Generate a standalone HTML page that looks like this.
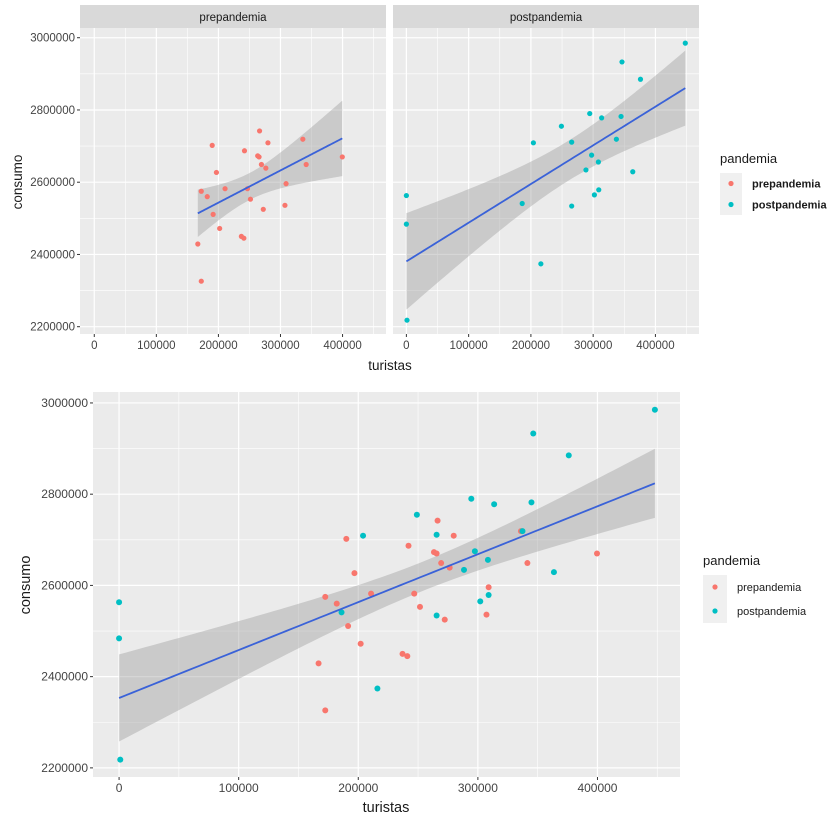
<!DOCTYPE html>
<html><head><meta charset="utf-8"><style>
body{margin:0;background:#fff;}
svg{display:block;font-family:"Liberation Sans",Arial,sans-serif;}
</style></head><body>
<svg id="c" width="831" height="821"></svg>
<script>
const preX=[166.8,172.4,172.4,182,190,191.5,196.8,202,210.7,237,241,242,246.8,251.6,263.3,265.5,266.3,269.3,272.3,276.4,279.8,307.2,309,336,341.4,399.6];
const preY=[2429,2326,2575,2560,2702,2511,2627,2472,2582,2450,2445,2687,2582,2553,2673,2670,2742,2649,2525,2639,2709,2536,2596,2719,2649,2670];
const postX=[0,0,1,186,204,216,249,265.5,265.5,288.4,294.5,297.5,302,308.4,309,313.6,337.3,344.8,346.3,363.6,376,448];
const postY=[2563,2484,2218,2541,2709,2374,2755,2711,2534,2634,2790,2675,2565,2656,2579,2778,2719,2782,2933,2629,2885,2985];
const xTicks=[0,100000,200000,300000,400000];
const yTicks=[2200000,2400000,2600000,2800000,3000000];
const seriesNames=['prepandemia','postpandemia'];
const colors=['#F8766D','#00BFC4'];
const NS='http://www.w3.org/2000/svg';
const svg=document.getElementById('c');
function mk(tag,attrs,parent){const e=document.createElementNS(NS,tag);for(const k in attrs)e.setAttribute(k,attrs[k]);(parent||svg).appendChild(e);return e;}
function fit(xs,ys){const n=xs.length;let mx=0,my=0;for(let i=0;i<n;i++){mx+=xs[i];my+=ys[i];}mx/=n;my/=n;let sxx=0,sxy=0;for(let i=0;i<n;i++){sxx+=(xs[i]-mx)**2;sxy+=(xs[i]-mx)*(ys[i]-my);}const b=sxy/sxx,a=my-b*mx;let sse=0;for(let i=0;i<n;i++)sse+=(ys[i]-a-b*xs[i])**2;const s=Math.sqrt(sse/(n-2));const t=n<24?2.086:(n<30?2.064:2.013);return {a,b,mx,sxx,s,n,t,min:Math.min(...xs),max:Math.max(...xs)};}
function panel(o){
  const g=mk('g',{});
  const X=v=>o.x0+(v-o.xd[0])/(o.xd[1]-o.xd[0])*o.w;
  const Y=v=>o.y0+o.h-(v-o.yd[0])/(o.yd[1]-o.yd[0])*o.h;
  const bg=mk('rect',{x:o.x0,y:o.y0,width:o.w,height:o.h,fill:'#EBEBEB'},g);
  for(let v=-100000;v<=500000;v+=50000){if(v%100000===0)continue;const x=X(v);if(x>o.x0&&x<o.x0+o.w)mk('line',{x1:x,x2:x,y1:o.y0,y2:o.y0+o.h,stroke:'#fff','stroke-width':0.6},g);}
  for(let v=2100000;v<=3100000;v+=100000){if(v%200000===0)continue;const y=Y(v);if(y>o.y0&&y<o.y0+o.h)mk('line',{x1:o.x0,x2:o.x0+o.w,y1:y,y2:y,stroke:'#fff','stroke-width':0.6},g);}
  xTicks.forEach(v=>{const x=X(v);mk('line',{x1:x,x2:x,y1:o.y0,y2:o.y0+o.h,stroke:'#fff','stroke-width':1.2},g);mk('line',{x1:x,x2:x,y1:o.y0+o.h,y2:o.y0+o.h+3,stroke:'#333','stroke-width':1},g);
    const t=mk('text',{x:x,y:o.y0+o.h+15,'text-anchor':'middle','font-size':o.fs,fill:'#444'},g);t.textContent=v;});
  yTicks.forEach(v=>{const y=Y(v);mk('line',{x1:o.x0,x2:o.x0+o.w,y1:y,y2:y,stroke:'#fff','stroke-width':1.2},g);
    if(o.yaxis){mk('line',{x1:o.x0-3,x2:o.x0,y1:y,y2:y,stroke:'#333','stroke-width':1},g);
    const t=mk('text',{x:o.x0-5,y:y+4,'text-anchor':'end','font-size':o.fs,fill:'#444'},g);t.textContent=v;}});
  const f=fit(o.fx,o.fy);const up=[],lo=[],ln=[];
  for(let i=0;i<=80;i++){const xv=f.min+(f.max-f.min)*i/80;const yv=f.a+f.b*xv;const se=f.s*Math.sqrt(1/f.n+(xv-f.mx)**2/f.sxx);
    up.push(X(xv*1000)+','+Y((yv+f.t*se)*1000));lo.unshift(X(xv*1000)+','+Y((yv-f.t*se)*1000));ln.push(X(xv*1000)+','+Y(yv*1000));}
  const band=mk('polygon',{points:up.concat(lo).join(' '),fill:'#999999','fill-opacity':0.4},g);
  o.pts.forEach(p=>{for(let i=0;i<p.xs.length;i++){const c=mk('circle',{cx:X(p.xs[i]*1000),cy:Y(p.ys[i]*1000),r:o.r,fill:p.col},g);}});
  const l=mk('polyline',{points:ln.join(' '),fill:'none',stroke:'#3A62D8','stroke-width':1.8},g);
  if(o.strip){const s=mk('rect',{x:o.x0,y:o.y0-23,width:o.w,height:23,fill:'#D9D9D9'},g);
    const t=mk('text',{x:o.x0+o.w/2,y:o.y0-7,'text-anchor':'middle','font-size':11.5,fill:'#1A1A1A'},g);t.textContent=o.strip;}
}
panel({name:'panel-prepandemia',x0:80,y0:28,w:306,h:306,xd:[-23000,470000],yd:[2179800,3026900],yaxis:true,fs:11.5,r:2.6,strip:'prepandemia',fx:preX,fy:preY,pts:[{xs:preX,ys:preY,col:colors[0],name:'prepandemia'}]});
panel({name:'panel-postpandemia',x0:393,y0:28,w:306,h:306,xd:[-21500,470000],yd:[2179800,3026900],yaxis:false,fs:11.5,r:2.6,strip:'postpandemia',fx:postX,fy:postY,pts:[{xs:postX,ys:postY,col:colors[1],name:'postpandemia'}]});
panel({name:'panel-combined',x0:93,y0:392,w:587,h:385,xd:[-21800,469000],yd:[2180000,3024000],yaxis:true,fs:12,r:3,strip:null,fx:preX.concat(postX),fy:preY.concat(postY),pts:[{xs:preX,ys:preY,col:colors[0],name:'prepandemia'},{xs:postX,ys:postY,col:colors[1],name:'postpandemia'}]});
function txt(x,y,s,fs,name,extra){const t=mk('text',Object.assign({x:x,y:y,'font-size':fs,fill:'#1A1A1A'},extra||{}));t.textContent=s;return t;}
txt(390,370,'turistas',13.5,'x-axis-title',{'text-anchor':'middle'});
txt(22,182,'consumo',13.5,'y-axis-title',{'text-anchor':'middle',transform:'rotate(-90 22 182)'});
txt(386,812,'turistas',14.5,'x-axis-title',{'text-anchor':'middle'});
txt(30,585,'consumo',14.5,'y-axis-title',{'text-anchor':'middle',transform:'rotate(-90 30 585)'});
function legend(x,y,fs,ks,gap,bold){
  const g=mk('g',{});
  const t=mk('text',{x:x,y:y,'font-size':fs+2,fill:'#1A1A1A'},g);t.textContent='pandemia';
  seriesNames.forEach((n,i)=>{const ky=y+10+i*gap;const r=mk('rect',{x:x,y:ky,width:ks,height:gap,fill:'#F0F0F0'},g);
    const c=mk('circle',{cx:x+ks/2,cy:ky+gap/2,r:2.6,fill:colors[i]},g);
    const l=mk('text',{x:x+ks+10,y:ky+gap/2+4,'font-size':fs,fill:'#1A1A1A','font-weight':bold?'bold':'normal'},g);l.textContent=n;});
}
legend(720,163,11,22,21,true);
legend(703,565,11,24,24,false);
</script>
</body></html>
